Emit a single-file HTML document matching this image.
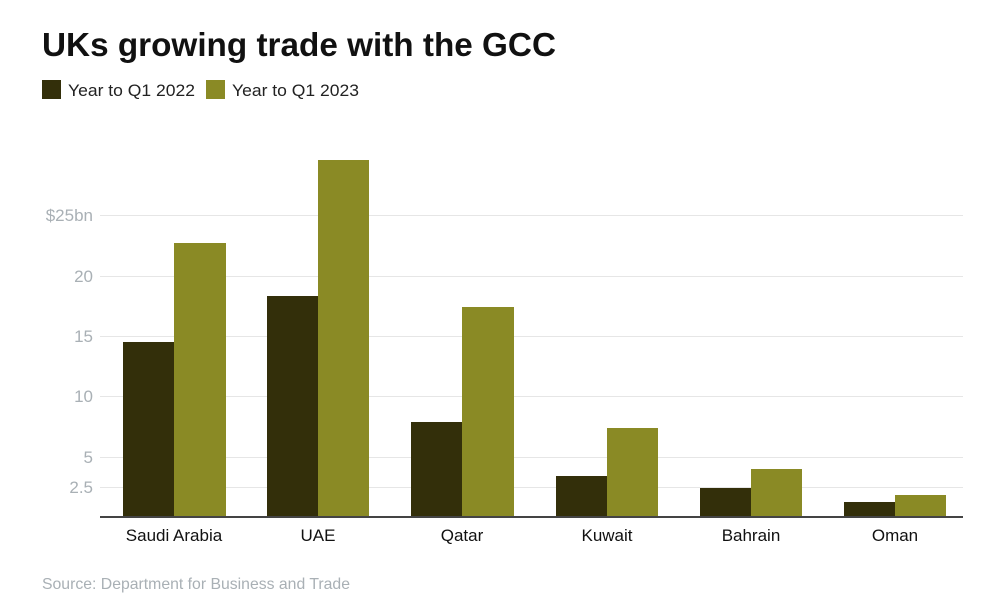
<!DOCTYPE html>
<html><head><meta charset="utf-8"><style>
html,body{margin:0;padding:0;background:#fff;}
svg{display:block;font-family:"Liberation Sans",sans-serif;}
</style></head><body>
<svg width="1000" height="614" viewBox="0 0 1000 614">
<text x="42" y="56" font-size="33" font-weight="bold" fill="#111" textLength="514" lengthAdjust="spacingAndGlyphs">UKs growing trade with the GCC</text>
<rect x="42" y="80" width="19" height="19" fill="#332f0a"/>
<text x="68" y="96" font-size="17" fill="#222" textLength="127" lengthAdjust="spacingAndGlyphs">Year to Q1 2022</text>
<rect x="206" y="80" width="19" height="19" fill="#8a8a25"/>
<text x="232" y="96" font-size="17" fill="#222" textLength="127" lengthAdjust="spacingAndGlyphs">Year to Q1 2023</text>
<g stroke="#e6e6e6" stroke-width="1">
<line x1="100" x2="963" y1="215.5" y2="215.5"/>
<line x1="100" x2="963" y1="276.5" y2="276.5"/>
<line x1="100" x2="963" y1="336.5" y2="336.5"/>
<line x1="100" x2="963" y1="396.5" y2="396.5"/>
<line x1="100" x2="963" y1="457.5" y2="457.5"/>
<line x1="100" x2="963" y1="487.5" y2="487.5"/>
</g>
<g font-size="17" fill="#a9b0b5" text-anchor="end">
<text x="93" y="221">$25bn</text>
<text x="93" y="282">20</text>
<text x="93" y="342">15</text>
<text x="93" y="402">10</text>
<text x="93" y="463">5</text>
<text x="93" y="493">2.5</text>
</g>
<g fill="#332f0a">
<rect x="123" y="342" width="51" height="175"/>
<rect x="267" y="296" width="51" height="221"/>
<rect x="411" y="422" width="51" height="95"/>
<rect x="556" y="476" width="51" height="41"/>
<rect x="700" y="488" width="51" height="29"/>
<rect x="844" y="502" width="51" height="15"/>
</g>
<g fill="#8a8a25">
<rect x="174" y="243" width="52" height="274"/>
<rect x="318" y="160" width="51" height="357"/>
<rect x="462" y="307" width="52" height="210"/>
<rect x="607" y="428" width="51" height="89"/>
<rect x="751" y="469" width="51" height="48"/>
<rect x="895" y="495" width="51" height="22"/>
</g>
<line x1="100" x2="963" y1="517" y2="517" stroke="#444" stroke-width="2"/>
<g font-size="17" fill="#111" text-anchor="middle">
<text x="174" y="541">Saudi Arabia</text>
<text x="318" y="541">UAE</text>
<text x="462" y="541">Qatar</text>
<text x="607" y="541">Kuwait</text>
<text x="751" y="541">Bahrain</text>
<text x="895" y="541">Oman</text>
</g>
<text x="42" y="589" font-size="16" fill="#a9b0b5" textLength="308" lengthAdjust="spacingAndGlyphs">Source: Department for Business and Trade</text>
</svg>
</body></html>
